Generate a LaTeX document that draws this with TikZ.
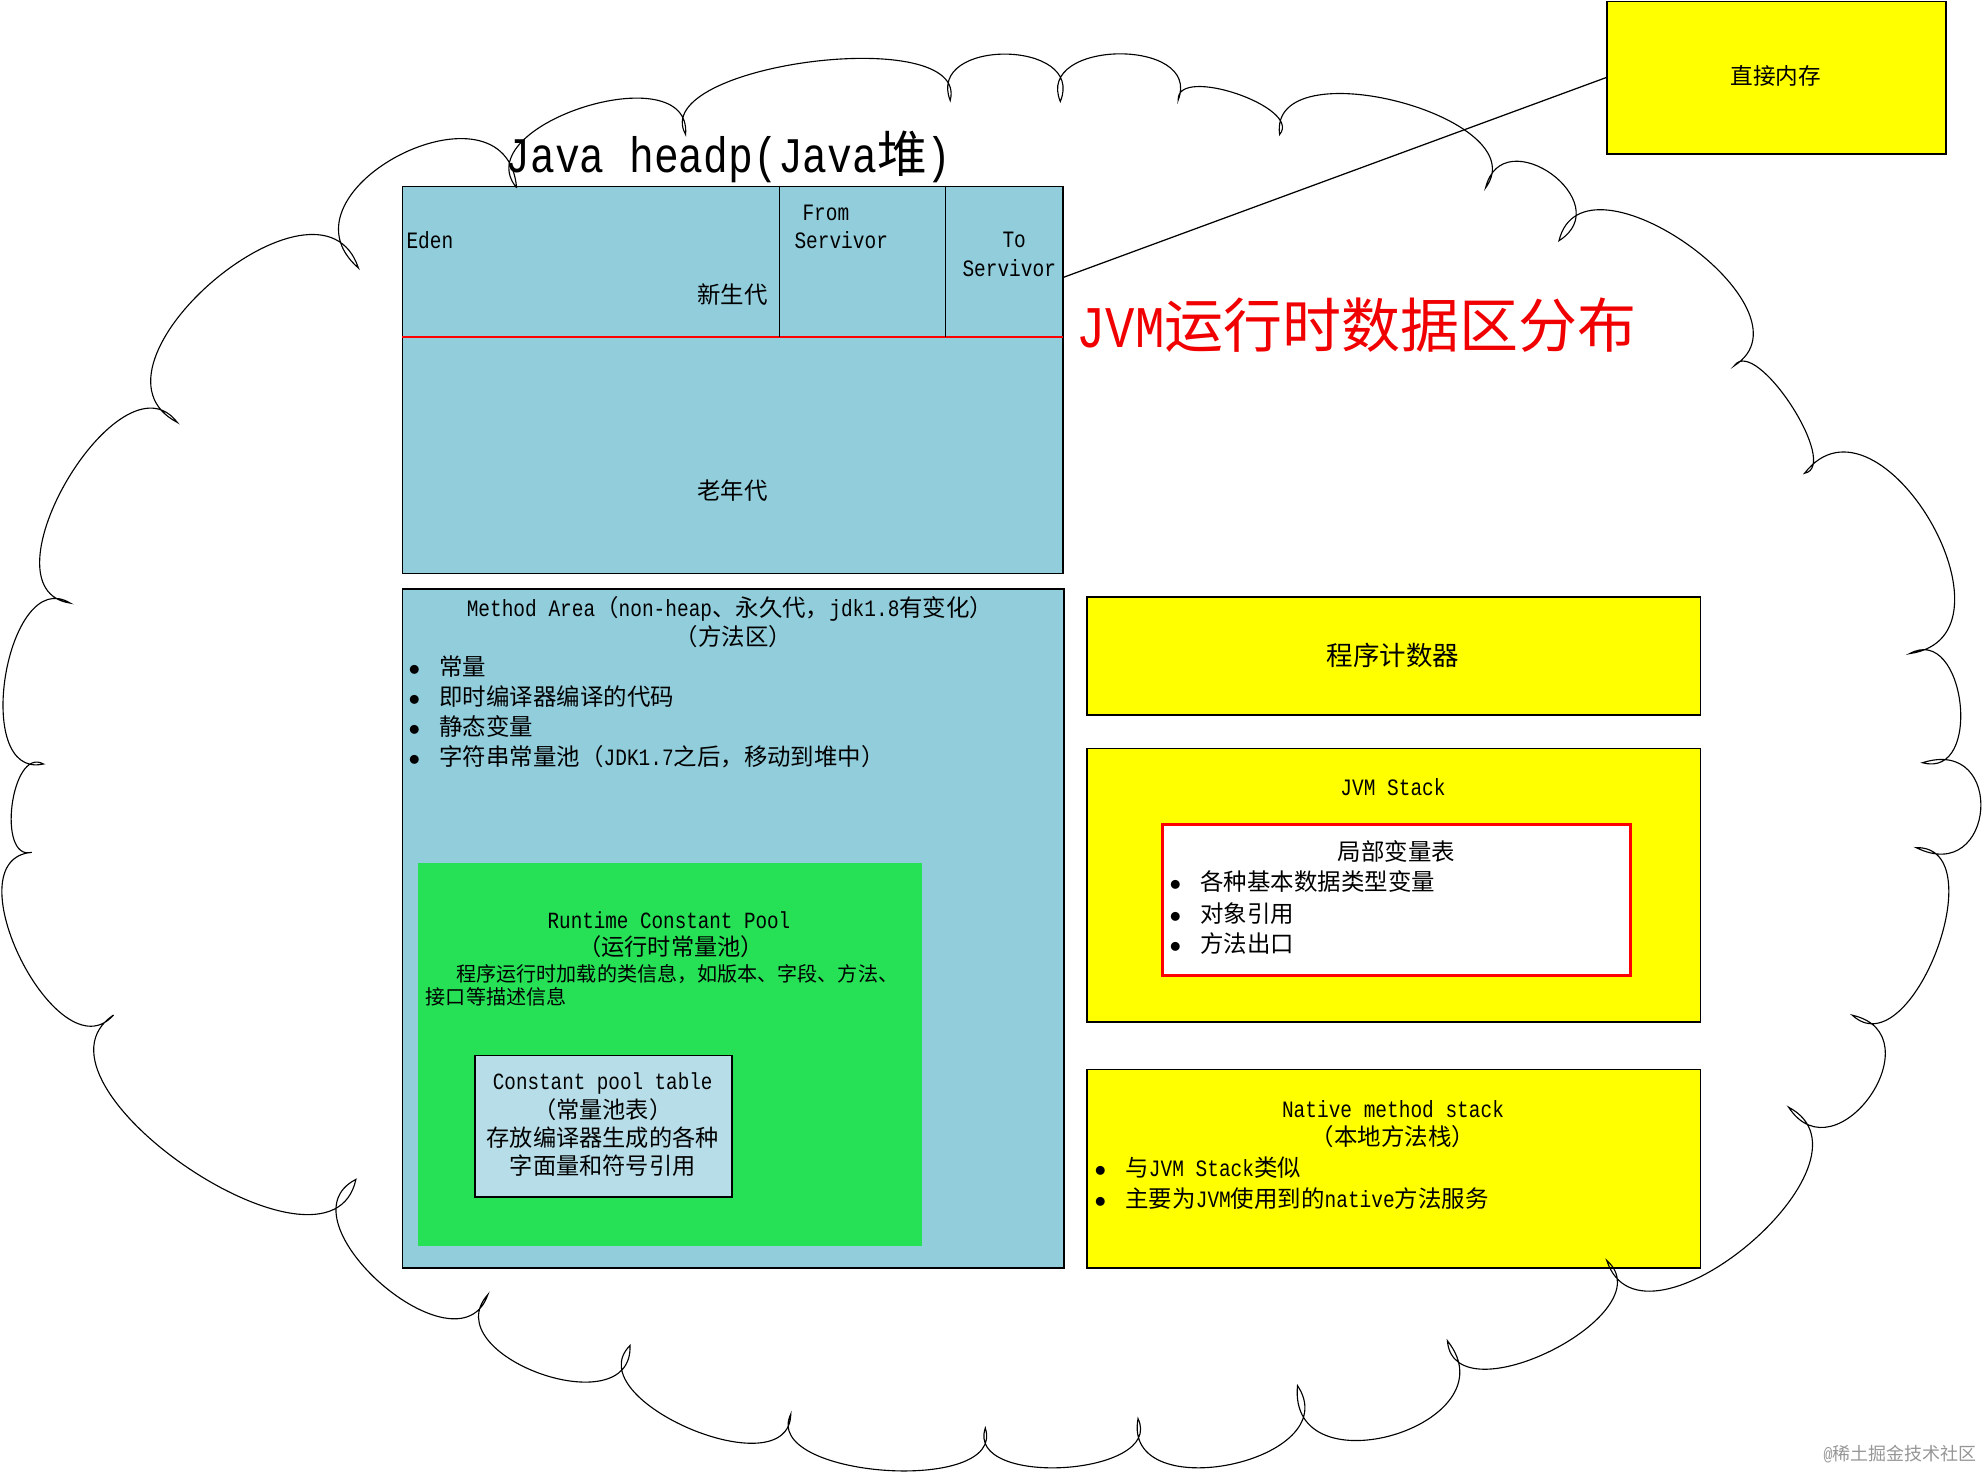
\documentclass[tikz,border=0pt]{standalone}
\usepackage{fontspec}
\setmainfont{Liberation Mono}[FakeStretch=0.83]
\newfontfamily\cjk{Noto Sans CJK SC}
\usetikzlibrary{calc,fit}
\definecolor{heapblue}{RGB}{146,205,220}
\definecolor{cptblue}{RGB}{183,222,232}
\definecolor{rcpgreen}{RGB}{38,224,86}
\definecolor{memyellow}{RGB}{255,255,0}
\definecolor{wmgray}{RGB}{150,150,150}
\definecolor{titlered}{RGB}{240,0,0}
\newcommand\myfs[1]{\fontsize{#1}{#1}\selectfont}
\newcommand\bul{\makebox[12.4pt][l]{$\bullet$}}
\newcommand\lobe[3]{.. controls ($(#1)!#3*1.04!112:(#2)$) and ($(#2)!#3*1.04!-112:(#1)$) .. (#2)}
\begin{document}
\begin{tikzpicture}[x=0.4pt,y=-0.4pt,
  area/.style={inner sep=0pt, draw=black, line width=0.6pt},
  lbl/.style={inner sep=0pt, font=\myfs{9.38pt}},
  cloudline/.style={draw=black, line width=0.45pt},
  link/.style={draw=black, line width=0.5pt}]
\useasboundingbox (0,0) rectangle (1985,1472);

% ---------- heap ----------
\node[area, fill=heapblue, fit={(402.4,186.4) (1063,573.4)}] (heap) {};
\draw[red, line width=0.45pt] (402.4,337) -- (1063,337);
\draw[black, line width=0.5pt] (779.3,186.4) -- (779.3,337);
\draw[black, line width=0.5pt] (945.2,186.4) -- (945.2,337);

\node[lbl, anchor=west] (eden) at (406,239.7) {Eden};
\node[lbl, anchor=west] (from) at (802,212.4) {From};
\node[lbl, anchor=west] (fromsv) at (794,239.7) {Servivor};
\node[lbl, anchor=west] (to) at (1002,239.7) {To};
\node[lbl, anchor=west] (tosv) at (962,268) {Servivor};
\node[lbl, anchor=west] (young) at (697,295) {\cjk 新生代};
\node[lbl] (old) at (732.6,490.8) {\cjk 老年代};

% ---------- titles ----------
\node[lbl, anchor=base west, font=\myfs{19.9pt}] (title) at (505,172) {Java headp(Java{\cjk 堆})};
\node[lbl, anchor=base west, font=\myfs{23.6pt}, text=titlered] (jvmtitle) at (1076,347) {JVM{\cjk 运行时数据区分布}};

% ---------- method area ----------
\node[area, fill=heapblue, fit={(402.4,589) (1064,1268.1)}] (method) {};
\node[lbl] (matitle) at (730,608.8) {Method Area{\cjk （}non-heap{\cjk 、永久代，}jdk1.8{\cjk 有变化）}};
\node[lbl] (masub) at (733.5,636.2) {\cjk （方法区）};
\node[lbl, anchor=west] (ma1) at (408,666.4) {\bul{\cjk 常量}};
\node[lbl, anchor=west] (ma2) at (408,696.6) {\bul{\cjk 即时编译器编译的代码}};
\node[lbl, anchor=west] (ma3) at (408,726.8) {\bul{\cjk 静态变量}};
\node[lbl, anchor=west] (ma4) at (408,757.0) {\bul{\cjk 字符串常量池（}JDK1.7{\cjk 之后，移动到堆中）}};

% ---------- runtime constant pool ----------
\node[inner sep=0pt, draw=none, fill=rcpgreen, fit={(417.7,862.7) (921.6,1245.5)}] (rcp) {};
\node[lbl, font=\myfs{9.28pt}] (rcptitle) at (669,919.8) {Runtime Constant Pool};
\node[lbl, font=\myfs{9.28pt}] (rcpsub) at (671,946.7) {\cjk （运行时常量池）};
\node[lbl, anchor=west, font=\myfs{8.03pt}] (rcpd1) at (456,973.6) {\cjk 程序运行时加载的类信息，如版本、字段、方法、};
\node[lbl, anchor=west, font=\myfs{8.03pt}] (rcpd2) at (425.4,997.2) {\cjk 接口等描述信息};

\node[area, fill=cptblue, fit={(475.1,1055.3) (732.1,1196.8)}] (cpt) {};
\node[lbl, font=\myfs{9.28pt}] (cpt1) at (602.7,1083.6) {Constant pool table};
\node[lbl, font=\myfs{9.28pt}] (cpt2) at (602.7,1109.5) {\cjk （常量池表）};
\node[lbl, font=\myfs{9.28pt}] (cpt3) at (602.7,1137.9) {\cjk 存放编译器生成的各种};
\node[lbl, font=\myfs{9.28pt}] (cpt4) at (602.7,1165.2) {\cjk 字面量和符号引用};

% ---------- right column ----------
\node[area, fill=memyellow, fit={(1087,597) (1700.6,715)}] (pc) {};
\node[lbl, font=\myfs{10.6pt}] (pctext) at (1393,655) {\cjk 程序计数器};

\node[area, fill=memyellow, fit={(1087,748.5) (1700.6,1022.2)}] (jvmstack) {};
\node[lbl] (jvmst) at (1393,787.2) {JVM Stack};
\node[inner sep=0pt, draw=red, line width=1.2pt, fill=white, fit={(1162.3,824) (1630.4,975)}] (lvtbox) {};
\node[lbl] (lvt) at (1396.4,851.4) {\cjk 局部变量表};
\node[lbl, anchor=west] (lv1) at (1169,882) {\bul{\cjk 各种基本数据类型变量}};
\node[lbl, anchor=west] (lv2) at (1169,913.2) {\bul{\cjk 对象引用}};
\node[lbl, anchor=west] (lv3) at (1169,943.4) {\bul{\cjk 方法出口}};

\node[area, fill=memyellow, fit={(1087,1069.4) (1700.6,1268.1)}] (native) {};
\node[lbl] (nat1) at (1393,1109.5) {Native method stack};
\node[lbl] (nat2) at (1393,1136.4) {\cjk （本地方法栈）};
\node[lbl, anchor=west] (nb1) at (1094,1167.1) {\bul{\cjk 与}JVM Stack{\cjk 类似}};
\node[lbl, anchor=west] (nb2) at (1094,1198.3) {\bul{\cjk 主要为}JVM{\cjk 使用到的}native{\cjk 方法服务}};

\node[area, fill=memyellow, fit={(1606.8,1.4) (1946,153.8)}] (mem) {};
\node[lbl, font=\myfs{9.04pt}] (memtext) at (1775.8,75.5) {\cjk 直接内存};

% ---------- connector ----------
\coordinate (lineA) at (1063,277.5);
\draw[link] (lineA) -- (mem.west);

% ---------- cloud ----------
\coordinate (c1) at (516.6,187.8);
\coordinate (c2) at (685.6,134.5);
\coordinate (c3) at (950.2,100.5);
\coordinate (c4) at (1060.3,101.5);
\coordinate (c5) at (1178.2,100);
\coordinate (c6) at (1279.6,134.5);
\coordinate (c7) at (1485.6,187.8);
\coordinate (c8) at (1559,240.7);
\coordinate (c9) at (1734.3,365.7);
\coordinate (c10) at (1804.5,473.3);
\coordinate (c11) at (1909.7,653.6);
\coordinate (c12) at (1922.5,762.7);
\coordinate (c13) at (1916.1,847.6);
\coordinate (c14) at (1852.3,1015.2);
\coordinate (c15) at (1788.6,1107.2);
\coordinate (c16) at (1606.8,1260.5);
\coordinate (c17) at (1447.4,1340.8);
\coordinate (c18) at (1297.5,1385.6);
\coordinate (c19) at (1138,1418.6);
\coordinate (c20) at (985.3,1428);
\coordinate (c21) at (790.8,1414);
\coordinate (c22) at (630,1345.5);
\coordinate (c23) at (487.9,1294.5);
\coordinate (c24) at (355.9,1179.4);
\coordinate (c25) at (113.5,1015);
\coordinate (c26) at (31.9,852.3);
\coordinate (c27) at (43.4,764);
\coordinate (c28) at (70.2,603.1);
\coordinate (c29) at (177.3,422.4);
\coordinate (c30) at (358.4,268);
\draw[cloudline] (c1)
  \lobe{c1}{c2}{0.443} \lobe{c2}{c3}{0.291} \lobe{c3}{c4}{0.589}
  \lobe{c4}{c5}{0.55} \lobe{c5}{c6}{0.32} \lobe{c6}{c7}{0.40}
  \lobe{c7}{c8}{0.76} \lobe{c8}{c9}{0.46} \lobe{c9}{c10}{0.28}
  \lobe{c10}{c11}{0.56} \lobe{c11}{c12}{0.556} \lobe{c12}{c13}{1.0}
  \lobe{c13}{c14}{0.43} \lobe{c14}{c15}{0.75} \lobe{c15}{c16}{0.46}
  \lobe{c16}{c17}{0.43} \lobe{c17}{c18}{0.66} \lobe{c18}{c19}{0.54}
  \lobe{c19}{c20}{0.40} \lobe{c20}{c21}{0.35} \lobe{c21}{c22}{0.42}
  \lobe{c22}{c23}{0.52} \lobe{c23}{c24}{0.49} \lobe{c24}{c25}{0.40}
  \lobe{c25}{c26}{0.44} \lobe{c26}{c27}{0.40} \lobe{c27}{c28}{0.44}
  \lobe{c28}{c29}{0.43} \lobe{c29}{c30}{0.49} \lobe{c30}{c1}{0.64};

% ---------- watermark ----------
\node[lbl, anchor=east, font=\myfs{7.2pt}, text=wmgray] (wm) at (1977,1454) {@{\cjk 稀土掘金技术社区}};
\end{tikzpicture}
\end{document}
